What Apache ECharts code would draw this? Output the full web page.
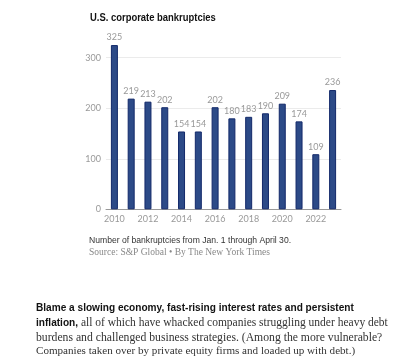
<!DOCTYPE html>
<html><head><meta charset="utf-8">
<script src="https://cdn.jsdelivr.net/npm/echarts@6/dist/echarts.min.js"></script>
<style>html,body{margin:0;padding:0;background:#fff}#c{width:400px;height:363px}</style>
</head><body><div id="c"></div>
<script>
const years = ['2010','2011','2012','2013','2014','2015','2016','2017','2018','2019','2020','2021','2022','2023'];
const bankruptcies = [325,219,213,202,154,154,202,180,183,190,209,174,109,236];
const yTicks = [0,100,200,300];
const titleText = 'U.S. corporate bankruptcies';
const noteText = 'Number of bankruptcies from Jan. 1 through April 30.';
const sourceText = 'Source: S&P Global \u2022 By The New York Times';

const chart = echarts.init(document.getElementById('c'), null, {renderer:'canvas'});
const sans = 'Liberation Sans, Arial, sans-serif';
const serif = 'Liberation Serif, Georgia, serif';
const numFont = 'Lato, sans-serif';
chart.setOption({
  animation:false,
  grid:{left:106,right:59,top:57.7,bottom:153.7},
  xAxis:{type:'category',data:years,
    axisLine:{lineStyle:{color:'#999',width:1}},
    axisTick:{show:false},
    axisLabel:{interval:1,color:'#999',fontSize:9,fontFamily:numFont,margin:5}
  },
  yAxis:{type:'value',min:yTicks[0],max:yTicks[yTicks.length-1],interval:100,
    axisLine:{show:false},axisTick:{show:false},
    axisLabel:{color:'#999',fontSize:9,fontFamily:numFont,margin:5},
    splitLine:{lineStyle:{color:'#ebebeb'}}
  },
  series:[{type:'bar',data:bankruptcies,barWidth:7,clip:false,
    itemStyle:{color:'#2c4a87',borderColor:'#13296a',borderWidth:1},
    label:{show:true,position:'top',distance:3,color:'#999',fontSize:9,fontFamily:numFont}
  }],
  graphic:[
    {type:'text',x:90,y:18,scaleX:0.82,style:{text:titleText,font:'bold 11.5px '+sans,fill:'#121212',verticalAlign:'middle'}},
    {type:'text',left:89,top:236.5,style:{text:noteText,font:'8.6px '+sans,fill:'#333'}},
    {type:'text',left:89,top:247.5,style:{text:sourceText,font:'9.5px '+serif,fill:'#888'}},
    {type:'text',left:36,top:303.5,style:{text:'Blame a slowing economy, fast-rising interest rates and persistent',font:'bold 10.1px '+sans,fill:'#121212'}},
    {type:'text',left:36,top:317,style:{text:'{b|inflation,} all of which have whacked companies struggling under heavy debt',
      font:'11.5px '+serif,fill:'#333',rich:{b:{font:'bold 10.1px '+sans,fill:'#121212'}}}},
    {type:'text',left:36,top:331.5,style:{text:'burdens and challenged business strategies. (Among the more vulnerable?',font:'11.7px '+serif,fill:'#333'}},
    {type:'text',left:36,top:346,style:{text:'Companies taken over by private equity firms and loaded up with debt.)',font:'11.1px '+serif,fill:'#333'}}
  ]
});
</script></body></html>
